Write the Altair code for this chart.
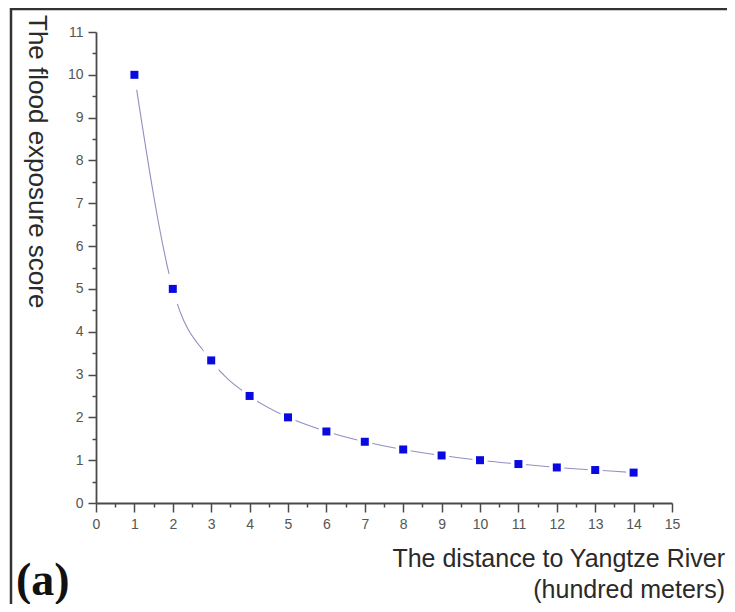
import altair as alt
import pandas as pd

# ---- data ----
distance = [1, 2, 3, 4, 5, 6, 7, 8, 9, 10, 11, 12, 13, 14]
score = [10.0, 5.0, 3.33, 2.5, 2.0, 1.67, 1.43, 1.25, 1.11, 1.0, 0.91, 0.83, 0.77, 0.71]
x_ticks = [i * 0.5 for i in range(0, 31)]   # 0 .. 15, minor at halves
y_ticks = [i * 0.5 for i in range(0, 23)]   # 0 .. 11, minor at halves

y_title = "The flood exposure score"
x_title_1 = "The distance to Yangtze River"
x_title_2 = "(hundred meters)"
panel_label = "(a)"

df = pd.DataFrame({"distance": distance, "score": score})

W, H = 576, 471
PAD_L, PAD_T, PAD_R, PAD_B = 88, 24, 55, 101

axis_common = dict(
    domainColor="#4a4a4a", domainWidth=1.8,
    tickColor="#4a4a4a", tickWidth=1.5,
    labelColor="#555555", labelFont="Liberation Sans", labelFontSize=14,
    grid=False, labelOverlap=False, title=None, labelFlush=False,
)

x_enc = alt.X(
    "distance:Q",
    scale=alt.Scale(domain=[0, 15], nice=False, zero=False),
    axis=alt.Axis(
        values=x_ticks,
        labelExpr="datum.value % 1 === 0 ? '' + datum.value : ''",
        tickSize={"condition": {"test": "datum.value % 1 !== 0", "value": 4}, "value": 9},
        labelPadding=5, labelAngle=0,
        **axis_common,
    ),
)
y_enc = alt.Y(
    "score:Q",
    scale=alt.Scale(domain=[0, 11], nice=False, zero=False),
    axis=alt.Axis(
        values=y_ticks,
        labelExpr="datum.value % 1 === 0 ? '' + datum.value : ''",
        tickSize={"condition": {"test": "datum.value % 1 !== 0", "value": 4}, "value": 8},
        labelPadding=5,
        **axis_common,
    ),
)

base = alt.Chart(df)

line = base.mark_line(color="#9090c0", strokeWidth=1.1, interpolate="monotone").encode(x=x_enc, y=y_enc)

halo = base.mark_point(
    shape="M-0.5,-1L0.5,-1L0.5,1L-0.5,1Z", filled=True, color="white",
    opacity=1, size=900, strokeWidth=0,
).encode(x=x_enc, y=y_enc)

squares = base.mark_square(size=64, color="#0a0ae0", opacity=1).encode(x=x_enc, y=y_enc)

one = alt.Data(values=[{"k": 1}])

# white covers hiding the plot-area outline on the top and right edges
cover_top = alt.Chart(one).mark_rule(color="white", strokeWidth=4).encode(
    y=alt.value(0), x=alt.value(2), x2=alt.value(W + 4)
)
cover_right = alt.Chart(one).mark_rule(color="white", strokeWidth=4).encode(
    x=alt.value(W), y=alt.value(-4), y2=alt.value(H - 2)
)

frame_left = alt.Chart(one).mark_rule(color="#333333", strokeWidth=2.5).encode(
    x=alt.value(-85), y=alt.value(-PAD_T), y2=alt.value(H + PAD_B)
)
frame_top = alt.Chart(one).mark_rule(color="#333333", strokeWidth=2.5).encode(
    y=alt.value(-23), x=alt.value(-86), x2=alt.value(W + PAD_R)
)

ytitle = alt.Chart(one).mark_text(
    angle=90, align="left", baseline="middle", font="Liberation Sans",
    fontSize=26, color="#2a2a2a",
).encode(x=alt.value(-59), y=alt.value(-17), text=alt.value(y_title))

xtitle1 = alt.Chart(one).mark_text(
    align="right", baseline="alphabetic", font="Liberation Sans",
    fontSize=25, color="#2a2a2a",
).encode(x=alt.value(W + PAD_R - 2), y=alt.value(535), text=alt.value(x_title_1))

xtitle2 = alt.Chart(one).mark_text(
    align="right", baseline="alphabetic", font="Liberation Sans",
    fontSize=25, color="#2a2a2a",
).encode(x=alt.value(W + PAD_R - 2), y=alt.value(566), text=alt.value(x_title_2))

plabel = alt.Chart(one).mark_text(
    align="left", baseline="alphabetic", font="Liberation Serif",
    fontSize=46, fontWeight="bold", color="#111111",
).encode(x=alt.value(-80), y=alt.value(563), text=alt.value(panel_label))

chart = alt.layer(
    cover_top, cover_right, line, halo, squares,
    frame_left, frame_top, ytitle, xtitle1, xtitle2, plabel
).properties(
    width=W, height=H,
    autosize=alt.AutoSizeParams(type="none"),
    padding={"left": PAD_L, "top": PAD_T, "right": PAD_R, "bottom": PAD_B},
).configure(
    background="white",
    view=alt.ViewConfig(stroke="white", strokeWidth=0),
)

chart.save("out.html", embed_options={"renderer": "svg", "actions": False})
